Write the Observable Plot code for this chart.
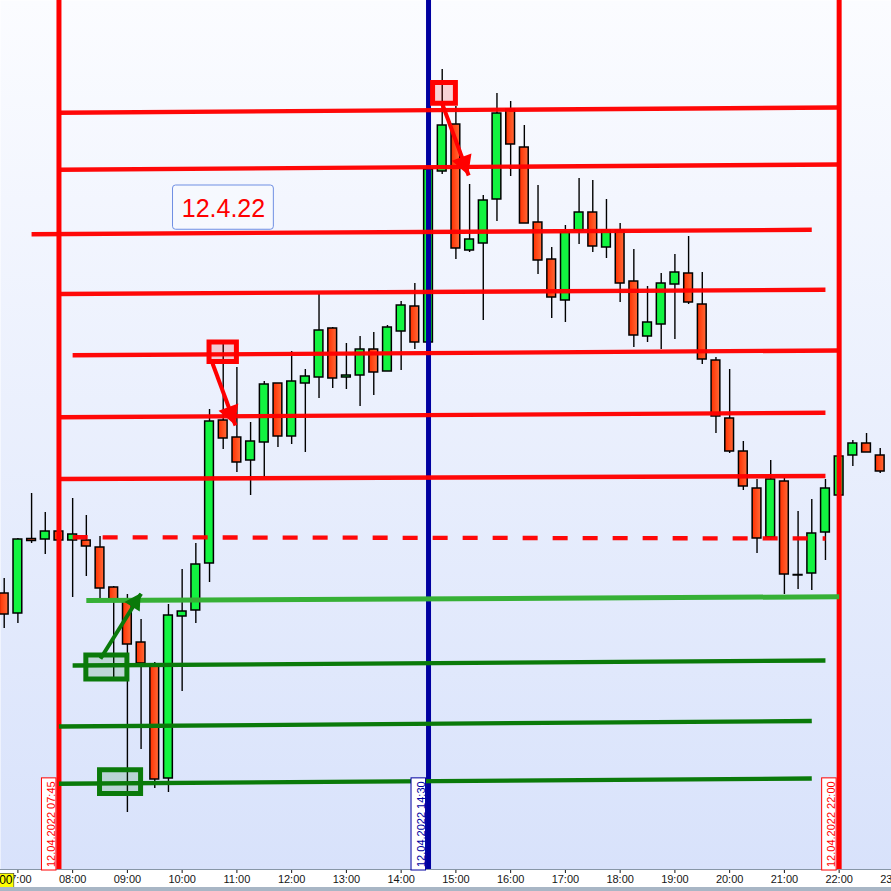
<!DOCTYPE html>
<html>
<head>
<meta charset="utf-8">
<script src="https://cdn.jsdelivr.net/npm/d3@7"></script>
<script src="https://cdn.jsdelivr.net/npm/@observablehq/plot@0.6"></script>
<style>
  html, body { margin: 0; padding: 0; background: #a8b6c5; overflow: hidden; }
  #chart svg { display: block; }
</style>
</head>
<body>
<div id="chart"></div>
<script>
// Intraday session 12.04.2022, 15-minute candles
const day = "2022-04-12";
const at = (hm) => new Date(`${day}T${hm.length === 5 ? hm + ":00" : hm}Z`);

const times = ["06:45","07:00","07:15","07:30","07:45","08:00","08:15","08:30","08:45","09:00","09:15","09:30","09:45",
  "10:00","10:15","10:30","10:45","11:00","11:15","11:30","11:45","12:00","12:15","12:30","12:45","13:00","13:15","13:30","13:45",
  "14:00","14:15","14:30","14:45","15:00","15:15","15:30","15:45","16:00","16:15","16:30","16:45","17:00","17:15","17:30","17:45",
  "18:00","18:15","18:30","18:45","19:00","19:15","19:30","19:45","20:00","20:15","20:30","20:45","21:00","21:15","21:30","21:45",
  "22:00","22:15","22:30","22:45","23:00"];
const open = [14012.8,14004.8,14034.6,14034.4,14037.6,14034.0,14034.0,14031.2,14015.2,14010.0,13993.2,13983.6,13938.8,
  14003.6,14006.0,14024.8,14082.0,14075.2,14066.0,14073.2,14096.8,14075.6,14096.8,14099.2,14118.8,14099.2,14100.0,14110.4,14101.6,
  14117.6,14127.6,14113.2,14181.6,14200.4,14150.0,14152.8,14170.4,14206.4,14191.2,14161.2,14146.4,14130.0,14158.0,14165.2,14151.2,
  14158.0,14137.6,14115.6,14120.4,14136.4,14140.8,14128.4,14106.0,14082.8,14069.6,14054.8,14035.2,14057.6,14020.2,14020.8,14037.2,
  14052.0,14068.0,14072.8,14068.0,14063.6];
const high = [14018.8,14034.8,14052.8,14045.2,14038.4,14050.8,14044.0,14035.6,14015.6,14012.4,14002.4,13985.2,14008.4,
  14022.4,14032.8,14086.4,14112.8,14103.2,14081.2,14097.6,14096.8,14109.6,14102.4,14132.4,14119.2,14112.8,14115.6,14117.2,14120.0,
  14129.6,14136.8,14183.2,14222.4,14207.6,14176.4,14172.0,14212.8,14209.6,14200.0,14176.0,14151.2,14160.0,14178.8,14178.0,14170.4,
  14160.8,14150.4,14135.6,14140.8,14148.4,14155.6,14141.2,14107.2,14102.4,14073.6,14058.4,14066.0,14058.8,14045.6,14050.4,14058.4,
  14068.0,14074.0,14076.8,14070.8,14063.6];
const low = [13998.8,14000.8,14032.8,14028.4,14033.2,14011.2,14019.6,14010.8,13979.2,13925.2,13950.4,13934.8,13933.2,
  13973.6,14000.8,14017.2,14070.4,14061.2,14052.0,14059.2,14071.2,14072.4,14069.2,14090.8,14094.8,14094.4,14087.6,14092.0,14101.6,
  14102.0,14110.4,14112.8,14180.4,14146.4,14149.2,14122.0,14161.6,14179.6,14160.8,14140.4,14122.8,14121.2,14152.4,14149.2,14146.8,
  14129.2,14111.2,14113.2,14110.4,14114.4,14128.4,14104.4,14076.8,14068.8,14054.0,14028.8,14034.0,14012.4,14014.4,14014.0,14026.0,
  14051.6,14063.6,14069.2,14060.8,14063.6];
const close = [14004.4,14034.4,14033.8,14037.6,14034.0,14036.4,14031.6,14014.8,14010.0,13992.4,13984.8,13938.4,14004.0,
  14005.6,14024.4,14081.6,14074.8,14065.2,14073.6,14096.4,14075.6,14097.6,14099.6,14118.0,14098.8,14100.0,14110.4,14101.2,14119.2,
  14128.0,14113.2,14182.4,14200.0,14150.8,14154.4,14170.0,14204.8,14192.4,14160.8,14146.0,14131.2,14157.2,14165.2,14151.6,14158.0,
  14136.8,14116.0,14121.2,14136.8,14141.2,14129.2,14106.4,14083.6,14069.6,14055.6,14034.8,14058.4,14020.4,14020.0,14036.8,14054.8,
  14067.6,14072.8,14069.2,14061.6,14063.6];

// Drawn price levels (start/end time and price)
const levelKind = ["resistance","resistance","resistance","resistance","resistance","resistance","resistance",
  "pivot","trigger","support","support","support"];
const levelStart = ["07:45","07:45","07:15","07:45","08:00","07:45","07:45","08:00","08:15","08:00","07:45","07:45"];
const levelStartPrice = [14205.1,14182.3,14156.5,14132.6,14108.1,14083.3,14058.6,14035.3,14010.0,13984.0,13959.6,13936.7];
const levelEnd = ["22:00","22:00","21:30","21:45","22:00","21:45","21:45","21:45","22:00","21:45","21:30","21:30"];
const levelEndPrice = [14207.2,14184.4,14158.3,14134.3,14110.0,14085.1,14059.8,14034.8,14011.5,13986.0,13961.8,13938.8];

// Session markers
const markerTimes = ["07:45","14:30","22:00"];
const markerKind = ["session","event","session"];
const markerLabels = ["12.04.2022 07:45","12.04.2022 14:30","12.04.2022 22:00"];

// Highlight boxes
const boxKind = ["bear","bear","bull","bull"];
const boxStart = ["10:30","14:35","08:15","08:30"];
const boxEnd = ["11:00","15:00","09:00","09:15"];
const boxTop = [14113.2,14217.0,13988.0,13942.1];
const boxBottom = [14105.4,14208.7,13978.4,13932.6];

// Arrows
const arrowKind = ["bear","bear","bull"];
const arrowFrom = ["10:33:20","14:45:00","08:30:30"];
const arrowFromPrice = [14104.8,14208.7,13986.7];
const arrowTo = ["10:58:30","15:14:00","09:15:00"];
const arrowToPrice = [14080.0,14180.0,14012.7];

// Date note
const noteText = ["12.4.22"];
const noteStart = ["09:50:00"];
const noteEnd = ["11:40:30"];
const noteTop = [14176.0];
const noteBottom = [14158.3];

// Axis
const hourTicks = ["07:00","08:00","09:00","10:00","11:00","12:00","13:00","14:00","15:00","16:00","17:00",
  "18:00","19:00","20:00","21:00","22:00","23:00"];
const viewStart = "06:40:56";
const viewEnd = "22:57:22";
const priceMin = 13902.4;
const priceMax = 14250;
const cursorLabel = ["00"];

// ---- build tables
const candles = times.map((t, i) => ({t: at(t), open: open[i], high: high[i], low: low[i], close: close[i]}));
const levels = levelKind.map((k, i) => ({kind: k, t1: at(levelStart[i]), p1: levelStartPrice[i], t2: at(levelEnd[i]), p2: levelEndPrice[i]}));
const markers = markerTimes.map((t, i) => ({t: at(t), kind: markerKind[i], label: markerLabels[i]}));
const boxes = boxKind.map((k, i) => ({kind: k, t1: at(boxStart[i]), t2: at(boxEnd[i]), top: boxTop[i], bottom: boxBottom[i]}));
const arrows = arrowKind.map((k, i) => ({kind: k, t1: at(arrowFrom[i]), p1: arrowFromPrice[i], t2: at(arrowTo[i]), p2: arrowToPrice[i]}));
const notes = noteText.map((s, i) => ({text: s, t1: at(noteStart[i]), t2: at(noteEnd[i]), top: noteTop[i], bottom: noteBottom[i]}));

const RED = "#ff0000", BLUE = "#0000a0", DARK_GREEN = "#0a7a0a", LIGHT_GREEN = "#36b036", BULL = "#12f440";
const markerColor = {session: RED, event: BLUE};
const kindColor = {bear: RED, bull: DARK_GREEN};
const minute = 60e3;
const bodyHalf = 4.8 * minute;
const shift = (d, ms) => new Date(+d + ms);

const plot = Plot.plot({
  width: 891,
  height: 887,
  marginTop: 0,
  marginRight: 0,
  marginBottom: 18,
  marginLeft: 0,
  style: {background: "white", fontFamily: "'Liberation Sans', Arial, sans-serif", fontSize: "11px", color: "#151515", overflow: "hidden"},
  x: {type: "utc", domain: [at(viewStart), at(viewEnd)], ticks: hourTicks.map(at), tickFormat: d3.utcFormat("%H:%M"), tickSize: 4, tickPadding: 2, label: null},
  y: {domain: [priceMin, priceMax], axis: null},
  color: {type: "identity"},
  marks: [
    Plot.frame({fill: "url(#plotBg)"}),
    Plot.ruleY([priceMin], {stroke: "#8796a6", strokeWidth: 1.2}),
    // candles
    Plot.ruleX(candles, {x: "t", y1: "low", y2: "high", stroke: "#000", strokeWidth: 1.4}),
    Plot.rect(candles, {
      x1: d => shift(d.t, -bodyHalf), x2: d => shift(d.t, bodyHalf),
      y1: "open", y2: "close",
      fill: d => d.close >= d.open ? BULL : "url(#bearBody)",
      stroke: "#000", strokeWidth: 1.5
    }),
    // session markers
    Plot.ruleX(markers, {x: "t", stroke: d => markerColor[d.kind], strokeWidth: 5}),
    // levels
    Plot.link(levels.filter(d => d.kind === "resistance"), {x1: "t1", y1: "p1", x2: "t2", y2: "p2", stroke: RED, strokeWidth: 4.3, strokeOpacity: 0.97}),
    Plot.link(levels.filter(d => d.kind === "pivot"), {x1: "t1", y1: "p1", x2: "t2", y2: "p2", stroke: RED, strokeWidth: 4.3, strokeDasharray: "15,15", strokeOpacity: 0.97}),
    Plot.link(levels.filter(d => d.kind === "support"), {x1: "t1", y1: "p1", x2: "t2", y2: "p2", stroke: DARK_GREEN, strokeWidth: 4.3}),
    Plot.link(levels.filter(d => d.kind === "trigger"), {x1: "t1", y1: "p1", x2: "t2", y2: "p2", stroke: LIGHT_GREEN, strokeWidth: 5}),
    // boxes
    Plot.rect(boxes, {x1: "t1", x2: "t2", y1: "bottom", y2: "top", fill: d => kindColor[d.kind], fillOpacity: 0.16}),
    Plot.rect(boxes, {x1: "t1", x2: "t2", y1: "bottom", y2: "top", fill: "none", stroke: d => kindColor[d.kind], strokeWidth: 5}),
    // arrow shafts
    Plot.link(arrows, {x1: "t1", y1: "p1", x2: "t2", y2: "p2", stroke: d => kindColor[d.kind], strokeWidth: 4}),
    // marker labels
    Plot.text(markers, {
      x: "t", frameAnchor: "bottom", text: "label", rotate: -90,
      textAnchor: "start", lineAnchor: "bottom", dx: -4, dy: -2.5,
      fill: d => markerColor[d.kind], fontSize: 11
    }),
    // date note
    Plot.rect(notes, {x1: "t1", x2: "t2", y1: "bottom", y2: "top", fill: "white", fillOpacity: 0.3, stroke: "#6f8fe3", strokeWidth: 1, rx: 3}),
    Plot.text(notes, {
      x: d => new Date((+d.t1 + +d.t2) / 2), y: d => (d.top + d.bottom) / 2,
      text: "text", fill: RED, fontSize: 25, lineAnchor: "middle", dy: 1
    }),
    // cursor time tag
    Plot.text(cursorLabel, {frameAnchor: "bottom-left", text: d => d, textAnchor: "end", lineAnchor: "middle", dx: 12, dy: 11, fill: "#000", fontSize: 12})
  ]
});

document.getElementById("chart").appendChild(plot);

// gradients for background and bear bodies
const svg = d3.select(plot);
const defs = svg.insert("defs", ":first-child");
const bg = defs.append("linearGradient").attr("id", "plotBg").attr("x1", 0).attr("y1", 0).attr("x2", 0).attr("y2", 1);
bg.append("stop").attr("offset", "0%").attr("stop-color", "#fbfcff");
bg.append("stop").attr("offset", "100%").attr("stop-color", "#d8e2fb");
const bear = defs.append("linearGradient").attr("id", "bearBody").attr("x1", 0).attr("y1", 0).attr("x2", 1).attr("y2", 0);
bear.append("stop").attr("offset", "0%").attr("stop-color", "#ff3000");
bear.append("stop").attr("offset", "100%").attr("stop-color", "#ff6a38");

// framed tags behind the marker labels and the cursor time
function tagBehind(node, pad, fill, stroke, strokeWidth) {
  const b = node.getBBox();
  const r = document.createElementNS("http://www.w3.org/2000/svg", "rect");
  const tf = node.getAttribute("transform");
  if (tf) r.setAttribute("transform", tf);
  r.setAttribute("x", b.x - pad.left);
  r.setAttribute("y", b.y - pad.top);
  r.setAttribute("width", b.width + pad.left + pad.right);
  r.setAttribute("height", b.height + pad.top + pad.bottom);
  r.setAttribute("fill", fill);
  r.setAttribute("stroke", stroke);
  r.setAttribute("stroke-width", strokeWidth);
  node.parentNode.insertBefore(r, node);
}
plot.querySelectorAll("text").forEach(node => {
  const s = node.textContent;
  const i = markerLabels.indexOf(s);
  if (i >= 0) {
    const c = markerColor[markerKind[i]];
    tagBehind(node, {left: 3, right: 3.5, top: 3.5, bottom: -1}, "white", c, 1);
  } else if (cursorLabel.includes(s) && node.closest("g") && !node.closest("g").getAttribute("aria-label")?.includes("axis")) {
    tagBehind(node, {left: 2, right: 1, top: 0, bottom: 0}, "#ffff00", "#333", 0.6);
  }
});

// filled arrow heads, placed through the plot's scales
const sx = plot.scale("x"), sy = plot.scale("y");
const heads = svg.append("g").attr("aria-label", "arrow-heads");
arrows.forEach(a => {
  const x0 = sx.apply(a.t1), y0 = sy.apply(a.p1);
  const x1 = sx.apply(a.t2), y1 = sy.apply(a.p2);
  const len = Math.hypot(x1 - x0, y1 - y0);
  const ux = (x1 - x0) / len, uy = (y1 - y0) / len;
  const L = a.kind === "bear" ? 19 : 16, W = a.kind === "bear" ? 10.5 : 9;
  const bx = x1 - ux * L, by = y1 - uy * L;
  heads.append("path")
    .attr("d", `M${x1},${y1}L${bx - uy * W},${by + ux * W}L${bx + uy * W},${by - ux * W}Z`)
    .attr("fill", kindColor[a.kind]);
});
</script>
</body>
</html>
